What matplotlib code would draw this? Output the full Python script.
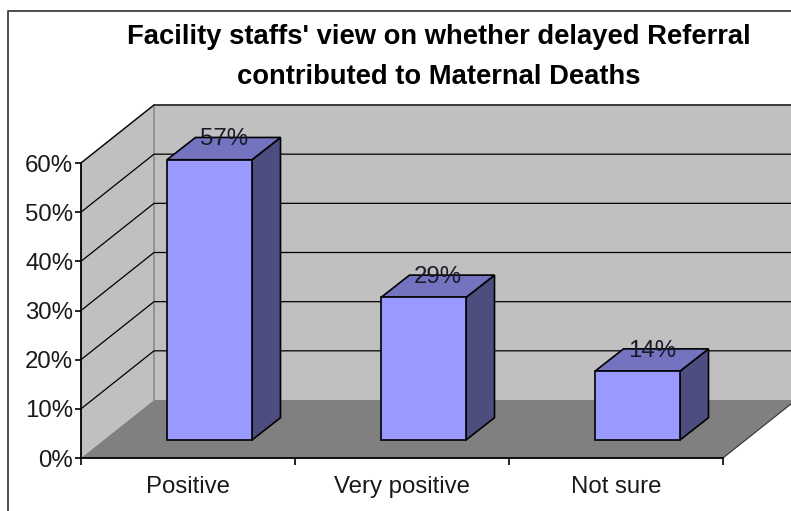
import matplotlib
matplotlib.use('Agg')
import matplotlib.pyplot as plt
from matplotlib.lines import Line2D
from matplotlib.patches import Polygon

plt.rcParams['font.family'] = ['Liberation Sans', 'DejaVu Sans']

# chart data ---------------------------------------------------------------
categories = ['Positive', 'Very positive', 'Not sure']
values = [57, 29, 14]
bar_labels = ['57%', '29%', '14%']
y_ticks = [0, 10, 20, 30, 40, 50, 60]
y_labels = ['0%', '10%', '20%', '30%', '40%', '50%', '60%']
title = "Facility staffs' view on whether delayed Referral\ncontributed to Maternal Deaths"

# fake 3d depth, in axis units
PX_X = 642 / 3
PX_Y = 295 / 60
DX = 73 / PX_X
DY = 58 / PX_Y
BAR_W = 85 / PX_X
BAR_DX = 28.5 / PX_X
BAR_DY = 22.3 / PX_Y
BAR_OFF_X = 21.5 / PX_X
BAR_OFF_Y = 18 / PX_Y

fig = plt.figure(figsize=(7.91, 5.11), dpi=100)
ax = fig.add_axes([81 / 791, (511 - 458) / 511, 642 / 791, 295 / 511])
ax.set_xlim(0, 3)
ax.set_ylim(0, 60)
ax.patch.set_visible(False)


def poly(pts, color, edge='none', lw=0, z=1):
    ax.add_patch(Polygon(pts, closed=True, facecolor=color, edgecolor=edge,
                         linewidth=lw, zorder=z, clip_on=False, joinstyle='miter'))


# walls and floor (right part runs off the picture)
right = 3 + DX
poly([(0, 0), (DX, DY), (DX, 60 + DY), (0, 60)], '#c0c0c0')
poly([(DX, DY), (right, DY), (right, 60 + DY), (DX, 60 + DY)], '#c0c0c0')
poly([(0, 0), (3, 0), (right, DY), (DX, DY)], '#808080')
ax.plot([0, DX, right], [60, 60 + DY, 60 + DY], color='#999999', lw=1.2, zorder=2, clip_on=False)
ax.plot([DX, DX], [DY, 60 + DY], color='#8c8c8c', lw=1.2, zorder=2, clip_on=False)
ax.plot([3, right], [0, DY], color='#333333', lw=0.8, zorder=2, clip_on=False)

# gridlines
for t in y_ticks[1:]:
    ax.plot([0, DX, right], [t, t + DY, t + DY], color='black', lw=0.9,
            zorder=3, clip_on=False)

# bars
for i, v in enumerate(values):
    x0 = i + 0.5 - BAR_W / 2 + BAR_OFF_X
    x1 = x0 + BAR_W
    y0 = BAR_OFF_Y
    y1 = y0 + v
    poly([(x1, y0), (x1 + BAR_DX, y0 + BAR_DY), (x1 + BAR_DX, y1 + BAR_DY), (x1, y1)],
         '#4d4d80', 'black', 1.2, 4)
    poly([(x0, y1), (x1, y1), (x1 + BAR_DX, y1 + BAR_DY), (x0 + BAR_DX, y1 + BAR_DY)],
         '#7373bf', 'black', 1.2, 4)
    ax.bar(x0, v, width=BAR_W, bottom=y0, align='edge', color='#9999ff',
           edgecolor='black', linewidth=1.2, zorder=5, clip_on=False)
    ax.text((x0 + x1) / 2 + 14.5 / PX_X, y1 + 20.5 / PX_Y, bar_labels[i], fontsize=17.3,
            color='#1a1a2a', ha='center', va='center', zorder=6)

# axes
for s in ['top', 'right']:
    ax.spines[s].set_visible(False)
for s in ['left', 'bottom']:
    ax.spines[s].set_linewidth(1.3)
    ax.spines[s].set_zorder(7)
ax.set_yticks(y_ticks)
ax.set_yticklabels(y_labels, fontsize=17.3, color='#1a1a1a')
ax.set_xticks([0, 1, 2, 3])
ax.set_xticklabels([])
ax.set_xticks([0.5, 1.5, 2.5], minor=True)
ax.set_xticklabels(categories, minor=True, fontsize=17.3, color='#1a1a1a')
ax.tick_params(axis='y', length=4, width=1.2, pad=1.5)
ax.tick_params(axis='x', which='major', length=5, width=1.2)
ax.tick_params(axis='x', which='minor', length=0, pad=13)

# title and chart border
fig.text(438.5 / 791, 1 - 57 / 511, title, fontsize=19.7, fontweight='bold', ha='center',
         va='center', linespacing=1.65, color='black')
fig.add_artist(Line2D([8 / 791, 8 / 791, 1], [0, 1 - 11 / 511, 1 - 11 / 511],
                      color='#404040', lw=1.3))

fig.savefig('out.png', dpi=100)
